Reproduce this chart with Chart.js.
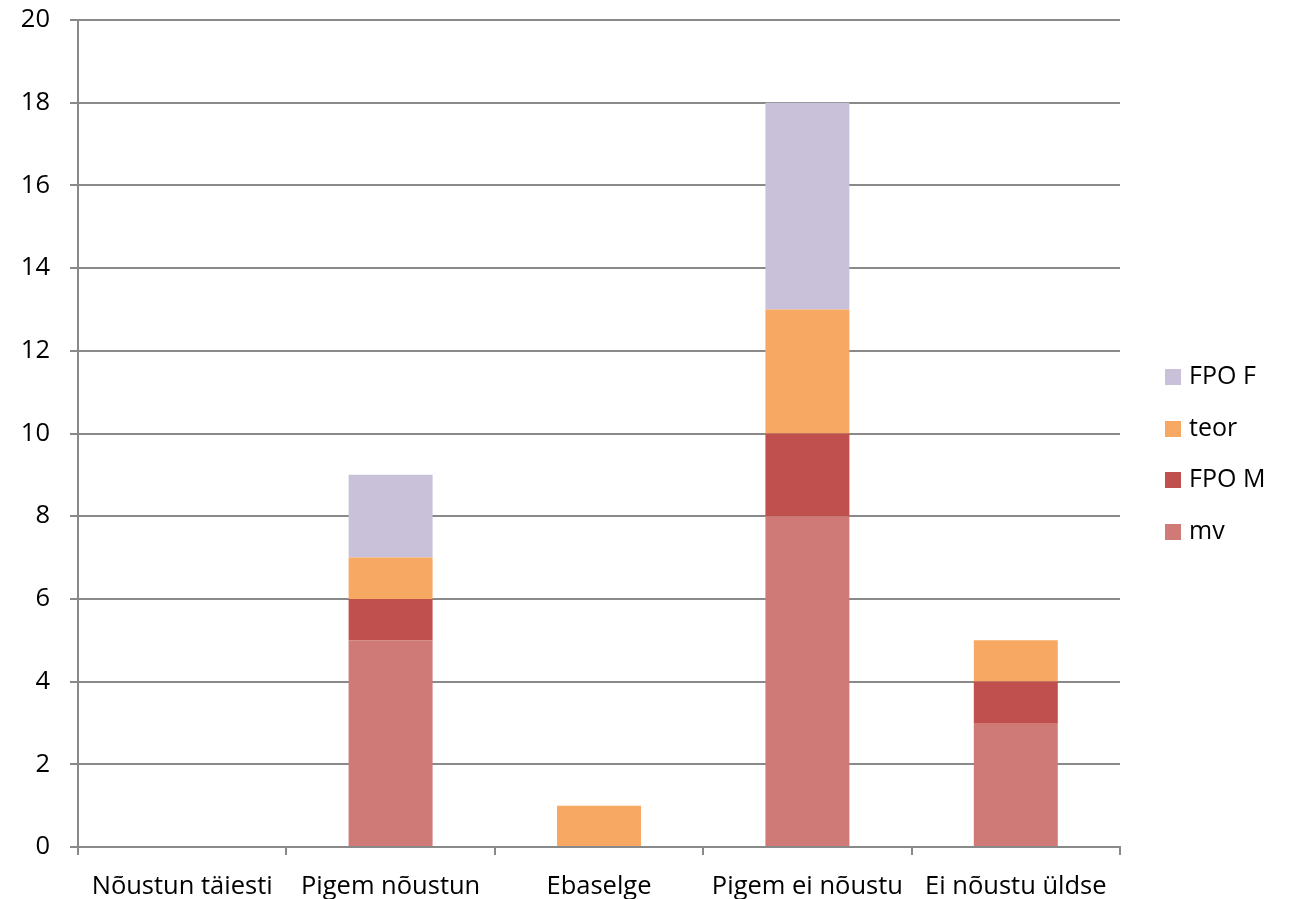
<!DOCTYPE html>
<html>
<head>
<meta charset="utf-8">
<script src="https://cdn.jsdelivr.net/npm/chart.js@4.4.1/dist/chart.umd.min.js"></script>
<style>
  html, body { margin: 0; padding: 0; background: #fff; }
  #wrap { position: relative; width: 1289px; height: 899px; }
  #legend { position: absolute; left: 1165px; top: 361px; font-family: "Open Sans", sans-serif; font-size: 25px; color: #000; }
  .item { height: 51.5px; display: flex; align-items: flex-start; }
  .box { width: 16px; height: 16px; margin-top: 8px; margin-right: 8px; flex: none; }
  .item span { line-height: 32px; margin-top: -3px; }
</style>
</head>
<body>
<div id="wrap">
  <canvas id="chart" width="1289" height="899"></canvas>
  <div id="legend"></div>
</div>
<script>
const categories = ['Nõustun täiesti', 'Pigem nõustun', 'Ebaselge', 'Pigem ei nõustu', 'Ei nõustu üldse'];
const mv = [0, 5, 0, 8, 3];
const fpoM = [0, 1, 0, 2, 1];
const teor = [0, 1, 1, 3, 1];
const fpoF = [0, 2, 0, 5, 0];

const seriesNames = ['mv', 'FPO M', 'teor', 'FPO F'];
const seriesColors = ['#cf7a77', '#c0504d', '#f7a862', '#c9c0da'];
const seriesData = [mv, fpoM, teor, fpoF];

const gridColor = '#898989';
const fontFamily = '"Open Sans", sans-serif';
const fontSize = 25.5;

const ctx = document.getElementById('chart').getContext('2d');
const chart = new Chart(ctx, {
    type: 'bar',
    data: {
        labels: categories,
        datasets: seriesNames.map((name, i) => ({
            label: name,
            data: seriesData[i],
            backgroundColor: seriesColors[i],
            borderWidth: 0,
            categoryPercentage: 0.403,
            barPercentage: 1.0
        }))
    },
    options: {
        responsive: false,
        animation: false,
        layout: { padding: { top: 20, right: 169, bottom: 0, left: 0 } },
        plugins: {
            legend: { display: false },
            tooltip: { enabled: false }
        },
        scales: {
            x: {
                stacked: true,
                grid: { offset: true, drawOnChartArea: false, color: gridColor, lineWidth: 2, tickLength: 8 },
                border: { color: gridColor, width: 2 },
                ticks: { color: '#000', font: { family: fontFamily, size: fontSize }, padding: 16, maxRotation: 0 },
                afterFit: function(scale) {
                    scale.height = 52;
                    scale.paddingLeft = 0;
                    scale.paddingRight = 0;
                }
            },
            y: {
                stacked: true,
                min: 0,
                max: 20,
                grid: { color: gridColor, lineWidth: 2, tickLength: 8 },
                border: { color: gridColor, width: 2 },
                ticks: { stepSize: 2, color: '#000', font: { family: fontFamily, size: fontSize }, padding: 20 },
                afterFit: function(scale) {
                    scale.width = 78;
                    scale.paddingTop = 0;
                    scale.paddingBottom = 0;
                }
            }
        }
    }
});

// legend in reverse order, like the reference
const legend = document.getElementById('legend');
for (let i = seriesNames.length - 1; i >= 0; i--) {
    const item = document.createElement('div');
    item.className = 'item';
    item.innerHTML = '<div class="box" style="background:' + seriesColors[i] + '"></div><span>' + seriesNames[i] + '</span>';
    legend.appendChild(item);
}
</script>
</body>
</html>
